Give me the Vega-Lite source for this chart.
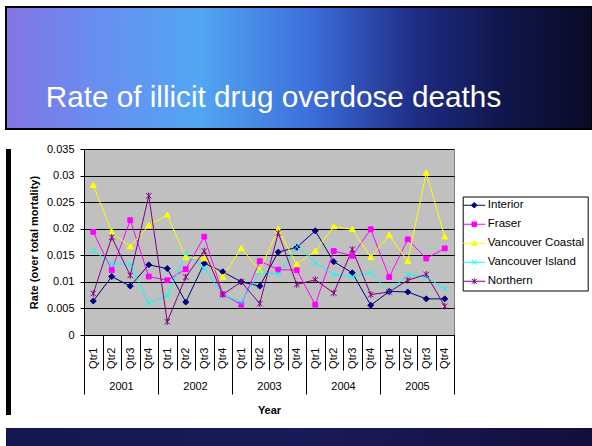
{
  "$schema": "https://vega.github.io/schema/vega-lite/v6.json",
  "background": "white",
  "padding": {"left": 5, "top": 6, "right": 0, "bottom": 0},
  "spacing": 12,
  "config": {
    "font": "Liberation Sans",
    "view": {"stroke": null},
    "axis": {"labelFont": "Liberation Sans", "titleFont": "Liberation Sans", "labelColor": "black", "titleColor": "black", "labelFontSize": 11, "titleFontSize": 11, "titleFontWeight": "bold", "domainColor": "black", "tickColor": "black", "domainWidth": 1, "tickWidth": 1},
    "legend": {"orient": "none", "legendX": 378.7, "legendY": 47.5, "strokeColor": "black", "fillColor": "white", "padding": 3, "labelFontSize": 11.5, "labelColor": "black", "labelFont": "Liberation Sans", "symbolSize": 100, "symbolStrokeWidth": 1, "rowPadding": 6, "symbolOffset": 2.8, "labelOffset": 7.8, "title": null}
  },
  "datasets": {
    "rates": [
      {"period": "2001 Qtr1", "year": "2001", "region": "Interior", "rate": 0.0064},
      {"period": "2001 Qtr2", "year": "2001", "region": "Interior", "rate": 0.0110},
      {"period": "2001 Qtr3", "year": "2001", "region": "Interior", "rate": 0.0092},
      {"period": "2001 Qtr4", "year": "2001", "region": "Interior", "rate": 0.0132},
      {"period": "2002 Qtr1", "year": "2002", "region": "Interior", "rate": 0.0125},
      {"period": "2002 Qtr2", "year": "2002", "region": "Interior", "rate": 0.0062},
      {"period": "2002 Qtr3", "year": "2002", "region": "Interior", "rate": 0.0135},
      {"period": "2002 Qtr4", "year": "2002", "region": "Interior", "rate": 0.0119},
      {"period": "2003 Qtr1", "year": "2003", "region": "Interior", "rate": 0.0100},
      {"period": "2003 Qtr2", "year": "2003", "region": "Interior", "rate": 0.0092},
      {"period": "2003 Qtr3", "year": "2003", "region": "Interior", "rate": 0.0156},
      {"period": "2003 Qtr4", "year": "2003", "region": "Interior", "rate": 0.0165},
      {"period": "2004 Qtr1", "year": "2004", "region": "Interior", "rate": 0.0196},
      {"period": "2004 Qtr2", "year": "2004", "region": "Interior", "rate": 0.0138},
      {"period": "2004 Qtr3", "year": "2004", "region": "Interior", "rate": 0.0117},
      {"period": "2004 Qtr4", "year": "2004", "region": "Interior", "rate": 0.0056},
      {"period": "2005 Qtr1", "year": "2005", "region": "Interior", "rate": 0.0082},
      {"period": "2005 Qtr2", "year": "2005", "region": "Interior", "rate": 0.0081},
      {"period": "2005 Qtr3", "year": "2005", "region": "Interior", "rate": 0.0068},
      {"period": "2005 Qtr4", "year": "2005", "region": "Interior", "rate": 0.0068},
      {"period": "2001 Qtr1", "year": "2001", "region": "Fraser", "rate": 0.0194},
      {"period": "2001 Qtr2", "year": "2001", "region": "Fraser", "rate": 0.0122},
      {"period": "2001 Qtr3", "year": "2001", "region": "Fraser", "rate": 0.0216},
      {"period": "2001 Qtr4", "year": "2001", "region": "Fraser", "rate": 0.0110},
      {"period": "2002 Qtr1", "year": "2002", "region": "Fraser", "rate": 0.0103},
      {"period": "2002 Qtr2", "year": "2002", "region": "Fraser", "rate": 0.0124},
      {"period": "2002 Qtr3", "year": "2002", "region": "Fraser", "rate": 0.0185},
      {"period": "2002 Qtr4", "year": "2002", "region": "Fraser", "rate": 0.0077},
      {"period": "2003 Qtr1", "year": "2003", "region": "Fraser", "rate": 0.0057},
      {"period": "2003 Qtr2", "year": "2003", "region": "Fraser", "rate": 0.0139},
      {"period": "2003 Qtr3", "year": "2003", "region": "Fraser", "rate": 0.0123},
      {"period": "2003 Qtr4", "year": "2003", "region": "Fraser", "rate": 0.0122},
      {"period": "2004 Qtr1", "year": "2004", "region": "Fraser", "rate": 0.0057},
      {"period": "2004 Qtr2", "year": "2004", "region": "Fraser", "rate": 0.0158},
      {"period": "2004 Qtr3", "year": "2004", "region": "Fraser", "rate": 0.0149},
      {"period": "2004 Qtr4", "year": "2004", "region": "Fraser", "rate": 0.0199},
      {"period": "2005 Qtr1", "year": "2005", "region": "Fraser", "rate": 0.0109},
      {"period": "2005 Qtr2", "year": "2005", "region": "Fraser", "rate": 0.0180},
      {"period": "2005 Qtr3", "year": "2005", "region": "Fraser", "rate": 0.0144},
      {"period": "2005 Qtr4", "year": "2005", "region": "Fraser", "rate": 0.0163},
      {"period": "2001 Qtr1", "year": "2001", "region": "Vancouver Coastal", "rate": 0.0282},
      {"period": "2001 Qtr2", "year": "2001", "region": "Vancouver Coastal", "rate": 0.0194},
      {"period": "2001 Qtr3", "year": "2001", "region": "Vancouver Coastal", "rate": 0.0166},
      {"period": "2001 Qtr4", "year": "2001", "region": "Vancouver Coastal", "rate": 0.0206},
      {"period": "2002 Qtr1", "year": "2002", "region": "Vancouver Coastal", "rate": 0.0226},
      {"period": "2002 Qtr2", "year": "2002", "region": "Vancouver Coastal", "rate": 0.0146},
      {"period": "2002 Qtr3", "year": "2002", "region": "Vancouver Coastal", "rate": 0.0144},
      {"period": "2002 Qtr4", "year": "2002", "region": "Vancouver Coastal", "rate": 0.0109},
      {"period": "2003 Qtr1", "year": "2003", "region": "Vancouver Coastal", "rate": 0.0163},
      {"period": "2003 Qtr2", "year": "2003", "region": "Vancouver Coastal", "rate": 0.0122},
      {"period": "2003 Qtr3", "year": "2003", "region": "Vancouver Coastal", "rate": 0.0199},
      {"period": "2003 Qtr4", "year": "2003", "region": "Vancouver Coastal", "rate": 0.0133},
      {"period": "2004 Qtr1", "year": "2004", "region": "Vancouver Coastal", "rate": 0.0158},
      {"period": "2004 Qtr2", "year": "2004", "region": "Vancouver Coastal", "rate": 0.0204},
      {"period": "2004 Qtr3", "year": "2004", "region": "Vancouver Coastal", "rate": 0.0199},
      {"period": "2004 Qtr4", "year": "2004", "region": "Vancouver Coastal", "rate": 0.0146},
      {"period": "2005 Qtr1", "year": "2005", "region": "Vancouver Coastal", "rate": 0.0188},
      {"period": "2005 Qtr2", "year": "2005", "region": "Vancouver Coastal", "rate": 0.0139},
      {"period": "2005 Qtr3", "year": "2005", "region": "Vancouver Coastal", "rate": 0.0305},
      {"period": "2005 Qtr4", "year": "2005", "region": "Vancouver Coastal", "rate": 0.0185},
      {"period": "2001 Qtr1", "year": "2001", "region": "Vancouver Island", "rate": 0.0159},
      {"period": "2001 Qtr2", "year": "2001", "region": "Vancouver Island", "rate": 0.0134},
      {"period": "2001 Qtr3", "year": "2001", "region": "Vancouver Island", "rate": 0.0133},
      {"period": "2001 Qtr4", "year": "2001", "region": "Vancouver Island", "rate": 0.0059},
      {"period": "2002 Qtr1", "year": "2002", "region": "Vancouver Island", "rate": 0.0074},
      {"period": "2002 Qtr2", "year": "2002", "region": "Vancouver Island", "rate": 0.0152},
      {"period": "2002 Qtr3", "year": "2002", "region": "Vancouver Island", "rate": 0.0125},
      {"period": "2002 Qtr4", "year": "2002", "region": "Vancouver Island", "rate": 0.0076},
      {"period": "2003 Qtr1", "year": "2003", "region": "Vancouver Island", "rate": 0.0062},
      {"period": "2003 Qtr2", "year": "2003", "region": "Vancouver Island", "rate": 0.0119},
      {"period": "2003 Qtr3", "year": "2003", "region": "Vancouver Island", "rate": 0.0115},
      {"period": "2003 Qtr4", "year": "2003", "region": "Vancouver Island", "rate": 0.0166},
      {"period": "2004 Qtr1", "year": "2004", "region": "Vancouver Island", "rate": 0.0136},
      {"period": "2004 Qtr2", "year": "2004", "region": "Vancouver Island", "rate": 0.0114},
      {"period": "2004 Qtr3", "year": "2004", "region": "Vancouver Island", "rate": 0.0110},
      {"period": "2004 Qtr4", "year": "2004", "region": "Vancouver Island", "rate": 0.0117},
      {"period": "2005 Qtr1", "year": "2005", "region": "Vancouver Island", "rate": 0.0081},
      {"period": "2005 Qtr2", "year": "2005", "region": "Vancouver Island", "rate": 0.0114},
      {"period": "2005 Qtr3", "year": "2005", "region": "Vancouver Island", "rate": 0.0109},
      {"period": "2005 Qtr4", "year": "2005", "region": "Vancouver Island", "rate": 0.0087},
      {"period": "2001 Qtr1", "year": "2001", "region": "Northern", "rate": 0.0078},
      {"period": "2001 Qtr2", "year": "2001", "region": "Northern", "rate": 0.0184},
      {"period": "2001 Qtr3", "year": "2001", "region": "Northern", "rate": 0.0112},
      {"period": "2001 Qtr4", "year": "2001", "region": "Northern", "rate": 0.0262},
      {"period": "2002 Qtr1", "year": "2002", "region": "Northern", "rate": 0.0025},
      {"period": "2002 Qtr2", "year": "2002", "region": "Northern", "rate": 0.0109},
      {"period": "2002 Qtr3", "year": "2002", "region": "Northern", "rate": 0.0158},
      {"period": "2002 Qtr4", "year": "2002", "region": "Northern", "rate": 0.0076},
      {"period": "2003 Qtr1", "year": "2003", "region": "Northern", "rate": 0.0100},
      {"period": "2003 Qtr2", "year": "2003", "region": "Northern", "rate": 0.0059},
      {"period": "2003 Qtr3", "year": "2003", "region": "Northern", "rate": 0.0192},
      {"period": "2003 Qtr4", "year": "2003", "region": "Northern", "rate": 0.0095},
      {"period": "2004 Qtr1", "year": "2004", "region": "Northern", "rate": 0.0104},
      {"period": "2004 Qtr2", "year": "2004", "region": "Northern", "rate": 0.0079},
      {"period": "2004 Qtr3", "year": "2004", "region": "Northern", "rate": 0.0161},
      {"period": "2004 Qtr4", "year": "2004", "region": "Northern", "rate": 0.0076},
      {"period": "2005 Qtr1", "year": "2005", "region": "Northern", "rate": 0.0081},
      {"period": "2005 Qtr2", "year": "2005", "region": "Northern", "rate": 0.0103},
      {"period": "2005 Qtr3", "year": "2005", "region": "Northern", "rate": 0.0114},
      {"period": "2005 Qtr4", "year": "2005", "region": "Northern", "rate": 0.0054}
    ]
  },
  "vconcat": [
    {
      "width": 586,
      "height": 122,
      "data": {"values": [{"heading": "Rate of illicit drug overdose deaths"}]},
      "layer": [
        {
          "mark": {"type": "rect", "stroke": "black", "strokeWidth": 2, "color": {"gradient": "linear", "x1": 0, "y1": 0, "x2": 1, "y2": 0, "stops": [{"offset": 0, "color": "#8474e4"}, {"offset": 0.14, "color": "#6a8cf0"}, {"offset": 0.33, "color": "#52a6f2"}, {"offset": 0.52, "color": "#3d6edb"}, {"offset": 0.7, "color": "#1e2c84"}, {"offset": 0.85, "color": "#10164a"}, {"offset": 1, "color": "#0a0a26"}]}},
          "encoding": {}
        },
        {
          "mark": {"type": "text", "fill": "white", "fontSize": 29.7, "font": "Liberation Sans", "align": "center", "baseline": "alphabetic", "dx": -25.5, "dy": 39},
          "encoding": {"text": {"field": "heading"}}
        }
      ]
    },
    {
      "spacing": 16,
      "hconcat": [
        {
          "width": 5,
          "height": 266,
          "data": {"values": [{}]},
          "mark": {"type": "rect", "color": "black"},
          "encoding": {}
        },
        {
          "width": 370,
          "height": 186,
          "data": {"name": "rates"},
          "view": {"fill": "#C0C0C0", "stroke": "#808080"},
          "layer": [
            {
              "encoding": {
                "x": {"field": "period", "type": "nominal", "scale": {"type": "band", "paddingInner": 0, "paddingOuter": 0},
                      "axis": {"orient": "bottom", "title": null, "labelExpr": "slice(datum.label, 5)", "labelAngle": 270, "tickBand": "extent", "tickSize": 35, "labelPadding": -23, "labelOverlap": false, "grid": false}},
                "y": {"field": "rate", "type": "quantitative", "scale": {"domain": [0, 0.035], "nice": false, "zero": true},
                      "axis": {"title": "Rate (over total mortality)", "values": [0, 0.005, 0.01, 0.015, 0.02, 0.025, 0.03, 0.035], "format": "~g", "grid": true, "gridColor": "black", "gridWidth": 1, "tickSize": 4, "labelPadding": 6, "titlePadding": 7}}
              },
              "layer": [
                {
                  "mark": {"type": "line", "strokeWidth": 1},
                  "encoding": {
                    "stroke": {"field": "region", "type": "nominal", "legend": null,
                               "scale": {"domain": ["Interior", "Fraser", "Vancouver Coastal", "Vancouver Island", "Northern"], "range": ["#000080", "#FF00FF", "#FFFF00", "#00FFFF", "#800080"]}}
                  }
                },
                {
                  "mark": {"type": "point", "size": 36, "strokeWidth": 1, "opacity": 1, "filled": true},
                  "encoding": {
                    "stroke": {"field": "region", "type": "nominal", "legend": null},
                    "fill": {"field": "region", "type": "nominal", "legend": null,
                             "scale": {"domain": ["Interior", "Fraser", "Vancouver Coastal", "Vancouver Island", "Northern"], "range": ["#000080", "#FF00FF", "#FFFF00", "#00FFFF", "#800080"]}},
                    "shape": {"field": "region", "type": "nominal", "legend": null,
                              "scale": {"domain": ["Interior", "Fraser", "Vancouver Coastal", "Vancouver Island", "Northern"],
                                        "range": ["M0,-1L1,0L0,1L-1,0Z", "M-0.8,-0.8H0.8V0.8H-0.8Z", "M0,-1L1,0.75H-1Z", "M-0.9,-0.9L0.9,0.9M-0.9,0.9L0.9,-0.9", "M-0.9,-0.9L0.9,0.9M-0.9,0.9L0.9,-0.9M0,-1.1V1.1"]}}
                  }
                }
              ]
            },
            {
              "transform": [{"filter": "false"}],
              "mark": {"type": "point", "size": 100, "strokeWidth": 1, "opacity": 1, "filled": true},
              "encoding": {
                "x": {"field": "year", "type": "nominal", "scale": {"type": "band", "domain": ["2001", "2002", "2003", "2004", "2005"], "paddingInner": 0, "paddingOuter": 0},
                      "axis": {"orient": "bottom", "title": "Year", "domain": false, "tickBand": "extent", "tickSize": 59, "labelPadding": -14, "labelAngle": 0, "grid": false, "titlePadding": 10}},
                "stroke": {"field": "region", "type": "nominal",
                           "scale": {"domain": ["Interior", "Fraser", "Vancouver Coastal", "Vancouver Island", "Northern"], "range": ["#000080", "#FF00FF", "#FFFF00", "#00FFFF", "#800080"]}},
                "fill": {"field": "region", "type": "nominal",
                         "scale": {"domain": ["Interior", "Fraser", "Vancouver Coastal", "Vancouver Island", "Northern"], "range": ["#000080", "#FF00FF", "#FFFF00", "#00FFFF", "#800080"]}},
                "shape": {"field": "region", "type": "nominal",
                          "scale": {"domain": ["Interior", "Fraser", "Vancouver Coastal", "Vancouver Island", "Northern"],
                                    "range": ["M-2.2,0H2.2M0,-0.55L0.55,0L0,0.55L-0.55,0Z", "M-2.2,0H2.2M-0.45,-0.45H0.45V0.45H-0.45Z", "M-2.2,0H2.2M0,-0.55L0.55,0.45H-0.55Z", "M-2.2,0H2.2M-0.5,-0.5L0.5,0.5M-0.5,0.5L0.5,-0.5", "M-2.2,0H2.2M-0.5,-0.5L0.5,0.5M-0.5,0.5L0.5,-0.5M0,-0.6V0.6"]}}
              }
            }
          ],
          "resolve": {"scale": {"x": "independent", "fill": "independent", "stroke": "independent", "shape": "independent"}, "axis": {"x": "independent"}}
        }
      ]
    },
    {
      "width": 586,
      "height": 19,
      "data": {"values": [{}]},
      "mark": {"type": "rect", "color": {"gradient": "linear", "x1": 0, "y1": 0, "x2": 1, "y2": 0, "stops": [{"offset": 0, "color": "#16164e"}, {"offset": 0.5, "color": "#1a1a58"}, {"offset": 1, "color": "#120f3c"}]}},
      "encoding": {}
    }
  ]
}
